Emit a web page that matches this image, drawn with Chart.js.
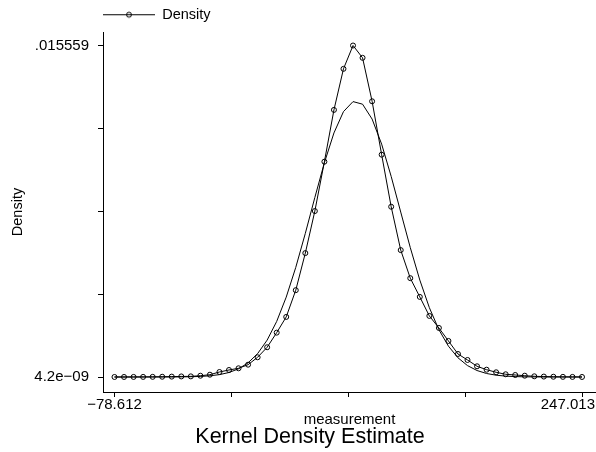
<!DOCTYPE html>
<html>
<head>
<meta charset="utf-8">
<script src="https://cdn.jsdelivr.net/npm/chart.js@4/dist/chart.umd.min.js"></script>
<style>
  body { margin: 0; background: #fff; }
  canvas { display: block; }
</style>
</head>
<body>
<canvas id="chart-area" width="596" height="452"></canvas>
<script>
// evaluation grid (measurement)
var gridX = [-78.612, -71.967, -65.321, -58.676, -52.030, -45.385, -38.740, -32.094, -25.449, -18.803,
             -12.158, -5.512, 1.133, 7.778, 14.424, 21.069, 27.715, 34.360, 41.005, 47.651,
             54.296, 60.942, 67.587, 74.232, 80.878, 87.523, 94.169, 100.814, 107.460, 114.105,
             120.750, 127.396, 134.041, 140.687, 147.332, 153.977, 160.623, 167.268, 173.914, 180.559,
             187.205, 193.850, 200.495, 207.141, 213.786, 220.432, 227.077, 233.722, 240.368, 247.013];

// kernel density estimate (markers)
var densityY = [0.000001, 0.000002, 0.000003, 0.000005, 0.000008, 0.000012, 0.000018, 0.000027, 0.000030, 0.000060,
                0.000108, 0.000235, 0.000329, 0.000409, 0.000578, 0.000926, 0.001396, 0.002082, 0.002820, 0.004075,
                0.005815, 0.007789, 0.010106, 0.012537, 0.014464, 0.015559, 0.014981, 0.012941, 0.010435, 0.007991,
                0.005956, 0.004639, 0.003760, 0.002867, 0.002303, 0.001692, 0.001081, 0.000799, 0.000503, 0.000343,
                0.000221, 0.000127, 0.000094, 0.000061, 0.000033, 0.000020, 0.000012, 0.000007, 0.000004, 0.000002];

// normal density overlay (plain line)
var normalY = [0.0000000042, 0.000000014, 0.000000042, 0.00000012, 0.00000034, 0.00000089, 0.0000022, 0.0000053, 0.0000122, 0.0000268,
               0.0000559, 0.0001111, 0.0002113, 0.0003834, 0.000664, 0.0010978, 0.001732, 0.002609, 0.003750, 0.005146,
               0.006741, 0.008427, 0.010057, 0.011456, 0.012456, 0.012926, 0.012805, 0.012107, 0.010929, 0.009414,
               0.007742, 0.006076, 0.004552, 0.003255, 0.002222, 0.001448, 0.000901, 0.000535, 0.000303, 0.000164,
               0.0000846, 0.0000417, 0.0000196, 0.0000088, 0.0000038, 0.0000015, 0.0000006, 0.00000022, 0.00000008, 0.000000027];

var xTicks = [-78.612, 2.79425, 84.2005, 165.60675, 247.013];
var yTicks = [0.0000000042, 0.00388975, 0.0077795, 0.01166925, 0.015559];
var xFirstLabel = '\u221278.612';
var xLastLabel = '247.013';
var yBottomLabel = '4.2e\u221209';
var yTopLabel = '.015559';

var FONT = "'Liberation Sans', Arial, Helvetica, sans-serif";
Chart.defaults.color = '#000';
Chart.defaults.font.family = FONT;

function toPoints(ys) {
    var pts = [];
    for (var i = 0; i < gridX.length; i++) {
        pts.push({x: gridX[i], y: ys[i]});
    }
    return pts;
}

// legend key: short line with a hollow circle in the middle
var legendImg = document.createElement('canvas');
legendImg.width = 52;
legendImg.height = 9;
(function() {
    var c = legendImg.getContext('2d');
    c.strokeStyle = '#000';
    c.lineWidth = 1;
    c.beginPath();
    c.moveTo(0, 4.5);
    c.lineTo(52, 4.5);
    c.stroke();
    c.beginPath();
    c.arc(26, 4.5, 2.5, 0, Math.PI * 2);
    c.stroke();
})();

var config = {
    type: 'line',
    data: {
        datasets: [{
            label: 'Density',
            data: toPoints(densityY),
            borderColor: '#000',
            borderWidth: 1,
            pointRadius: 2.5,
            pointBorderWidth: 1,
            pointBorderColor: '#000',
            pointBackgroundColor: 'rgba(0,0,0,0)',
            tension: 0
        }, {
            label: 'Normal',
            data: toPoints(normalY),
            borderColor: '#000',
            borderWidth: 1,
            pointRadius: 0,
            tension: 0
        }]
    },
    options: {
        responsive: false,
        animation: false,
        layout: { autoPadding: false, padding: { top: 7.5, left: 24, right: 0, bottom: 0 } },
        plugins: {
            tooltip: { enabled: false },
            legend: {
                position: 'top',
                align: 'start',
                fullSize: false,
                labels: {
                    usePointStyle: true,
                    pointStyleWidth: 52,
                    padding: 0,
                    font: { size: 14.5 },
                    generateLabels: function(chart) {
                        var items = Chart.defaults.plugins.legend.labels.generateLabels(chart);
                        items = items.filter(function(it) { return it.datasetIndex === 0; });
                        items.forEach(function(it) { it.pointStyle = legendImg; });
                        return items;
                    }
                }
            },
            title: {
                display: true,
                text: 'Kernel Density Estimate',
                position: 'bottom',
                font: { size: 21.5, weight: 'normal', lineHeight: 1 },
                padding: { top: -1.25, bottom: 4.25 }
            }
        },
        scales: {
            x: {
                type: 'linear',
                position: 'bottom',
                min: -86.622,
                max: 256.764,
                afterBuildTicks: function(axis) {
                    axis.ticks = xTicks.map(function(v) { return {value: v}; });
                },
                afterFit: function(scale) {
                    scale.height = 35.5;
                    scale.paddingLeft = 0;
                    scale.paddingRight = 0;
                },
                border: { display: true, color: '#000', width: 1 },
                grid: { drawOnChartArea: false, drawTicks: true, tickLength: 5, color: '#000' },
                ticks: {
                    autoSkip: false,
                    maxRotation: 0,
                    padding: 0,
                    font: { size: 15, lineHeight: 1 },
                    callback: function(value, index) {
                        return index === 0 ? xFirstLabel : '';
                    }
                },
                title: {
                    display: true,
                    text: 'measurement',
                    font: { size: 15, lineHeight: 1 },
                    padding: { top: 0, bottom: 0 }
                }
            },
            // second bottom axis only to carry the right-hand label, pulled inside the frame
            // (mirror keeps its labels from being clipped to its zero height)
            x2: {
                type: 'linear',
                position: 'bottom',
                weight: -1,
                min: -86.622,
                max: 256.764,
                afterBuildTicks: function(axis) {
                    axis.ticks = [{value: xTicks[xTicks.length - 1]}];
                },
                afterFit: function(scale) {
                    scale.height = 0;
                    scale.paddingLeft = 0;
                    scale.paddingRight = 0;
                },
                border: { display: false },
                grid: { display: false, drawTicks: false },
                ticks: {
                    autoSkip: false,
                    maxRotation: 0,
                    mirror: true,
                    align: 'end',
                    labelOffset: 13,
                    padding: -20,
                    font: { size: 15, lineHeight: 1 },
                    callback: function() { return xLastLabel; }
                }
            },
            y: {
                type: 'linear',
                position: 'left',
                min: -0.000704,
                max: 0.016193,
                afterBuildTicks: function(axis) {
                    axis.ticks = yTicks.map(function(v) { return {value: v}; });
                },
                afterFit: function(scale) { scale.width = 79; },
                border: { display: true, color: '#000', width: 1 },
                grid: { drawOnChartArea: false, drawTicks: true, tickLength: 5, color: '#000' },
                ticks: {
                    autoSkip: false,
                    padding: 9,
                    font: { size: 15 },
                    callback: function(value, index) {
                        if (index === 0) return yBottomLabel;
                        if (index === yTicks.length - 1) return yTopLabel;
                        return '';
                    }
                },
                title: {
                    display: true,
                    text: 'Density',
                    font: { size: 14.5, lineHeight: 1 },
                    padding: { top: -13.25, bottom: 0 }
                }
            }
        }
    }
};

var ctx = document.getElementById('chart-area').getContext('2d');
window.myChart = new Chart(ctx, config);
</script>
</body>
</html>
